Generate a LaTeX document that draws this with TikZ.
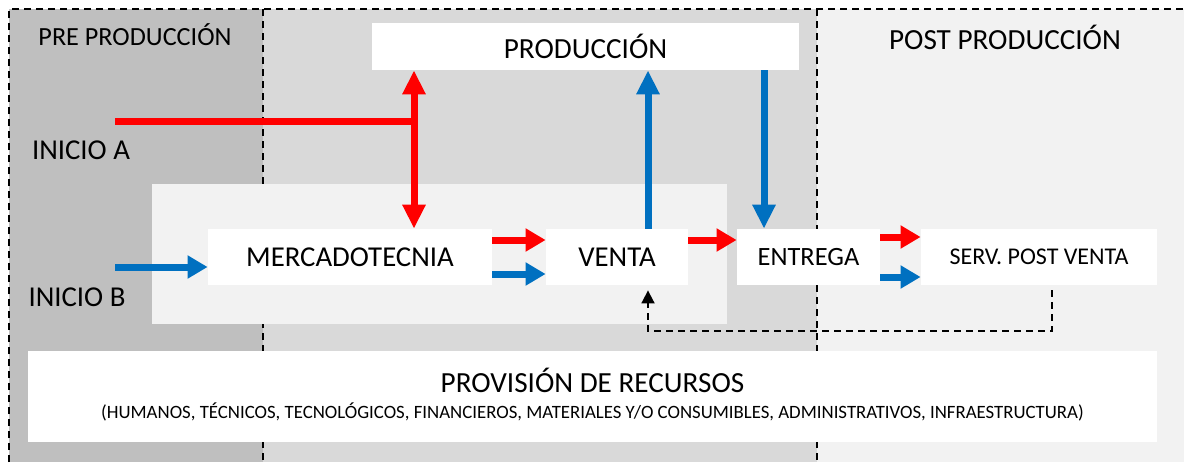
\documentclass[tikz,border=0pt]{standalone}
\usepackage{fontspec}
\setmainfont{Carlito}
\usetikzlibrary{arrows.meta}
\definecolor{rojo}{HTML}{FF0000}
\definecolor{azul}{HTML}{0070C0}
\definecolor{grisA}{HTML}{BFBFBF}
\definecolor{grisB}{HTML}{D9D9D9}
\definecolor{grisC}{HTML}{F2F2F2}
\begin{document}
\begin{tikzpicture}[x = 0.5pt, y = -0.5pt,
        caja/.style = {fill = white, inner sep = 0pt, font = \fontsize{14.4}{17}\selectfont},
        frojo/.style = {rojo, line width = 3.5pt, -{Triangle[width = 11pt, length = 10pt]}},
        fazul/.style = {azul, line width = 3.5pt, -{Triangle[width = 11pt, length = 10pt]}},
        borde/.style = {black, line width = 0.9pt, dash pattern = on 3.5pt off 2.5pt}]
        \useasboundingbox (0, 0) rectangle (1184, 462);
        % zonas
        \fill [grisA] (9, 9) rectangle (263, 462);
        \fill [grisB] (263, 9) rectangle (817, 462);
        \fill [grisC] (817, 9) rectangle (1184, 462);
        \draw [borde] (9, 462) -- (9, 9) -- (1184, 9);
        \draw [borde] (263, 9) -- (263, 462);
        \draw [borde] (817, 9) -- (817, 462);
        \fill [grisC] (152, 184) rectangle (727, 324);
        \node [font = \fontsize{13.1}{16}\selectfont] (pre) at (135, 35) {PRE PRODUCCIÓN};
        \node [font = \fontsize{14.6}{17}\selectfont] (post) at (1005, 37) {POST PRODUCCIÓN};
        % cajas
        \node [caja, minimum width = 213.5pt, minimum height = 23.5pt, font = \fontsize{14.6}{17}\selectfont] (prod) at (585.5, 46.5) {PRODUCCIÓN};
        \node [caja, minimum width = 142pt, minimum height = 28pt] (merc) at (350, 257) {MERCADOTECNIA};
        \node [caja, minimum width = 71pt, minimum height = 28pt] (venta) at (617, 257) {VENTA};
        \node [caja, minimum width = 71.5pt, minimum height = 28pt, font = \fontsize{13.2}{16}\selectfont] (entrega) at (808.5, 257) {ENTREGA};
        \node [caja, minimum width = 118pt, minimum height = 28pt, font = \fontsize{12}{14}\selectfont] (serv) at (1039, 257) {SERV. POST VENTA};
        \node [caja, minimum width = 564.5pt, minimum height = 45.5pt] (prov) at (592.5, 396.5) {};
        \node [font = \fontsize{14.6}{17}\selectfont] (provt) at (592.5, 380) {PROVISIÓN DE RECURSOS};
        \node [font = \fontsize{9.4}{11}\selectfont] (provs) at (592.5, 412) {(HUMANOS, TÉCNICOS, TECNOLÓGICOS, FINANCIEROS, MATERIALES Y/O CONSUMIBLES, ADMINISTRATIVOS, INFRAESTRUCTURA)};
        \node [font = \fontsize{14.4}{17}\selectfont] (iniA) at (81, 150) {INICIO A};
        \node [font = \fontsize{14.4}{17}\selectfont] (iniB) at (77, 297) {INICIO B};
        % puntos
        \coordinate (pA) at (115, 121);
        \coordinate (pB) at (115, 267);
        \coordinate (mA) at ([xshift = 32pt] merc.north);
        \coordinate (vA) at ([xshift = 15.5pt] venta.north);
        \coordinate (vB) at ([xshift = 15.5pt, yshift = -2.5pt] venta.south);
        \coordinate (eA) at ([xshift = -22.25pt] entrega.north);
        \coordinate (sA) at ([xshift = 6.5pt, yshift = -2.5pt] serv.south);
        % flechas
        \draw [rojo, line width = 3.5pt] (pA) -- (pA -| mA);
        \draw [frojo, {Triangle[width = 11pt, length = 12pt]}-{Triangle[width = 11pt, length = 12pt]}] (mA |- prod.south) -- (mA);
        \draw [fazul] (pB) -- (pB -| merc.west);
        \draw [frojo] ([yshift = 8.5pt] merc.east) -- ([yshift = 8.5pt] venta.west);
        \draw [fazul] ([yshift = -8.5pt] merc.east) -- ([yshift = -8.5pt] venta.west);
        \draw [fazul, -{Triangle[width = 11pt, length = 12pt]}] (vA) -- (vA |- prod.south);
        \draw [fazul, -{Triangle[width = 11pt, length = 12pt]}] (eA |- prod.south) -- (eA);
        \draw [frojo] ([yshift = 8.5pt] venta.east) -- ([yshift = 8.5pt] entrega.west);
        \draw [frojo] ([yshift = 10pt] entrega.east) -- ([yshift = 10pt] serv.west);
        \draw [fazul] ([yshift = -10pt] entrega.east) -- ([yshift = -10pt] serv.west);
        \draw [borde, -{Triangle[width = 6.5pt, length = 6.5pt]}] (sA) -- (sA |- 0, 331) -| (vB);
\end{tikzpicture}
\end{document}
